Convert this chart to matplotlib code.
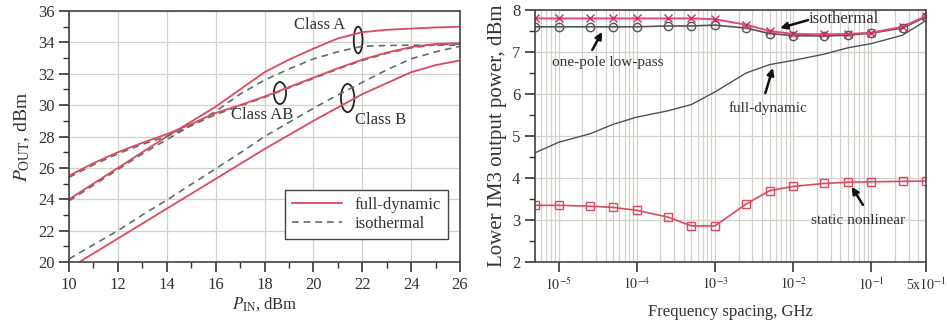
import numpy as np
import matplotlib.pyplot as plt
from matplotlib.patches import Ellipse
from matplotlib.ticker import MultipleLocator, FixedLocator, NullFormatter

plt.rcParams["font.family"] = ["Liberation Serif", "DejaVu Serif"]
plt.rcParams["mathtext.fontset"] = "stix"

# --- Pout vs Pin (left) ---
pin = [10, 11, 12, 13, 14, 15, 16, 17, 18, 19, 20, 21, 22, 23, 24, 25, 26]
a_full = [24.0, 25.0, 26.0, 27.0, 28.0, 28.95, 29.9, 31.0, 32.1, 32.9, 33.6, 34.25, 34.65, 34.8, 34.88, 34.95, 35.0]
a_iso = [23.9, 24.9, 25.9, 26.9, 27.8, 28.7, 29.6, 30.7, 31.6, 32.3, 32.95, 33.4, 33.75, 33.8, 33.82, 33.82, 33.82]
ab_full = [25.5, 26.3, 27.0, 27.6, 28.15, 28.8, 29.5, 30.0, 30.55, 31.15, 31.75, 32.35, 32.9, 33.35, 33.7, 33.9, 33.95]
ab_iso = [25.4, 26.2, 26.9, 27.5, 28.0, 28.7, 29.4, 29.95, 30.5, 31.1, 31.7, 32.3, 32.85, 33.3, 33.65, 33.85, 33.9]
b_full = [19.6, 20.55, 21.5, 22.45, 23.4, 24.35, 25.3, 26.25, 27.2, 28.1, 29.0, 29.85, 30.7, 31.4, 32.1, 32.55, 32.85]
b_iso = [20.2, 21.1, 22.0, 23.0, 23.95, 24.95, 25.95, 26.95, 28.0, 28.9, 29.8, 30.65, 31.45, 32.25, 32.95, 33.4, 33.75]

# --- IM3 vs frequency spacing (right) ---
freq = [5e-6, 1e-5, 2.5e-5, 5e-5, 1e-4, 2.5e-4, 5e-4, 1e-3, 2.5e-3, 5e-3, 1e-2, 2.5e-2, 5e-2, 1e-1, 2.5e-1, 5e-1]
im3_iso = [7.8, 7.8, 7.8, 7.8, 7.8, 7.8, 7.8, 7.78, 7.65, 7.5, 7.43, 7.42, 7.43, 7.46, 7.6, 7.86]
im3_onepole = [7.6, 7.6, 7.6, 7.6, 7.6, 7.62, 7.62, 7.64, 7.57, 7.44, 7.39, 7.38, 7.4, 7.45, 7.57, 7.84]
im3_full = [4.6, 4.85, 5.05, 5.28, 5.45, 5.6, 5.75, 6.05, 6.5, 6.7, 6.8, 6.95, 7.1, 7.2, 7.4, 7.75]
im3_static = [3.35, 3.35, 3.33, 3.3, 3.23, 3.07, 2.86, 2.86, 3.38, 3.7, 3.8, 3.87, 3.9, 3.91, 3.92, 3.93]
freq_ticks = [1e-5, 1e-4, 1e-3, 1e-2, 1e-1, 5e-1]
freq_labels = [r"$10^{-5}$", r"$10^{-4}$", r"$10^{-3}$", r"$10^{-2}$", r"$10^{-1}$", r"5x$10^{-1}$"]

red = "#dc4a5e"
dash_col = "#5f6d6d"
grid_col = "#d4d0cc"
txt = "#333333"

fig = plt.figure(figsize=(9.47, 3.29), dpi=100)
ax1 = fig.add_axes([0.0729, 0.2036, 0.4129, 0.763])
ax2 = fig.add_axes([0.565, 0.2036, 0.4129, 0.766])

# left panel
for full, iso in [(a_full, a_iso), (ab_full, ab_iso), (b_full, b_iso)]:
    ax1.plot(pin, iso, color=dash_col, lw=1.2, ls=(0, (4, 3)))
    ax1.plot(pin, full, color=red, lw=1.3)
ax1.plot([], [], color=red, lw=1.3, label="full-dynamic")
ax1.plot([], [], color=dash_col, lw=1.2, ls=(0, (4, 3)), label="isothermal")

ax1.set_xlim(10, 26)
ax1.set_ylim(20, 36)
ax1.xaxis.set_major_locator(MultipleLocator(2))
ax1.xaxis.set_minor_locator(MultipleLocator(1))
ax1.yaxis.set_major_locator(MultipleLocator(2))
ax1.yaxis.set_minor_locator(MultipleLocator(1))
ax1.grid(True, which="major", color=grid_col, lw=0.9)
ax1.set_axisbelow(True)
ax1.tick_params(which="major", direction="out", length=7, width=1.2, labelsize=12, colors=txt)
ax1.tick_params(which="minor", direction="out", length=4, width=1.0, colors=txt)
ax1.set_xlabel(r"$P_{\mathrm{IN}}$, dBm", fontsize=12, color=txt, labelpad=2)
ax1.set_ylabel(r"$P_{\mathrm{OUT}}$, dBm", fontsize=14, color=txt, labelpad=4)

for (cx, cy, w, h) in [(21.83, 34.15, 0.36, 1.7), (18.63, 30.77, 0.5, 1.4), (21.4, 30.45, 0.55, 1.8)]:
    ax1.add_patch(Ellipse((cx, cy), w, h, fill=False, ec="#222222", lw=1.3))
ax1.text(20.25, 35.1, "Class A", fontsize=12, color=txt, ha="center", va="center")
ax1.text(17.9, 29.35, "Class AB", fontsize=12, color=txt, ha="center", va="center")
ax1.text(22.75, 29.05, "Class B", fontsize=12, color=txt, ha="center", va="center")

leg = ax1.legend(loc="lower right", bbox_to_anchor=(0.99, 0.06), fontsize=12, frameon=True,
                 fancybox=False, edgecolor="#444444", framealpha=1, handlelength=3.0,
                 borderpad=0.4, labelspacing=0.2)
leg.get_frame().set_linewidth(1.0)
for t in leg.get_texts():
    t.set_color(txt)

# right panel
ax2.plot(freq, im3_full, color="#4a5262", lw=1.0)
ax2.plot(freq, im3_onepole, color="#555555", lw=1.2, marker="o", ms=6, mfc="none", mec="#555555")
ax2.plot(freq, im3_iso, color="#e04a78", lw=1.4, marker="x", ms=6, mec="#c83060")
ax2.plot(freq, im3_static, color=red, lw=1.2, marker="s", ms=6, mfc="none", mec=red)

ax2.set_xscale("log")
ax2.set_xlim(5e-6, 5e-1)
ax2.set_ylim(2, 8)
ax2.xaxis.set_major_locator(FixedLocator(freq_ticks))
ax2.set_xticklabels(freq_labels, fontsize=10)
ax2.xaxis.set_minor_formatter(NullFormatter())
ax2.yaxis.set_major_locator(MultipleLocator(1))
ax2.yaxis.set_minor_locator(MultipleLocator(0.5))
ax2.grid(True, which="both", axis="x", color=grid_col, lw=0.9)
ax2.grid(True, which="major", axis="y", color=grid_col, lw=0.9)
ax2.set_axisbelow(True)
ax2.tick_params(which="major", direction="out", length=7, width=1.2, colors=txt)
ax2.tick_params(axis="y", labelsize=12)
ax2.tick_params(axis="x", which="minor", length=0)
ax2.tick_params(axis="y", which="minor", direction="out", length=4, width=1.0, colors=txt)
ax2.set_xlabel("Frequency spacing, GHz", fontsize=12, color=txt, labelpad=8)
ax2.set_ylabel("Lower IM3 output power, dBm", fontsize=15, color=txt, labelpad=4)

arrow = dict(arrowstyle="-|>", color="#111111", lw=1.8, mutation_scale=10, shrinkA=0, shrinkB=0)
ax2.annotate("", xy=(6.8e-3, 7.57), xytext=(1.55e-2, 7.76), arrowprops=arrow)
ax2.text(4.4e-2, 7.78, "isothermal", fontsize=12, color=txt, ha="center", va="center")
ax2.annotate("", xy=(3.6e-5, 7.48), xytext=(2.7e-5, 7.05), arrowprops=arrow)
ax2.text(4.2e-5, 6.74, "one-pole low-pass", fontsize=11, color=txt, ha="center", va="center")
ax2.annotate("", xy=(5.5e-3, 6.62), xytext=(4.4e-3, 6.02), arrowprops=arrow)
ax2.text(4.8e-3, 5.67, "full-dynamic", fontsize=11, color=txt, ha="center", va="center")
ax2.annotate("", xy=(5.6e-2, 3.79), xytext=(7.8e-2, 3.36), arrowprops=arrow)
ax2.text(6.8e-2, 3.0, "static nonlinear", fontsize=11, color=txt, ha="center", va="center")

for ax in (ax1, ax2):
    for s in ax.spines.values():
        s.set_color("#444444")
        s.set_linewidth(1.2)

fig.savefig("out.png", dpi=100)
